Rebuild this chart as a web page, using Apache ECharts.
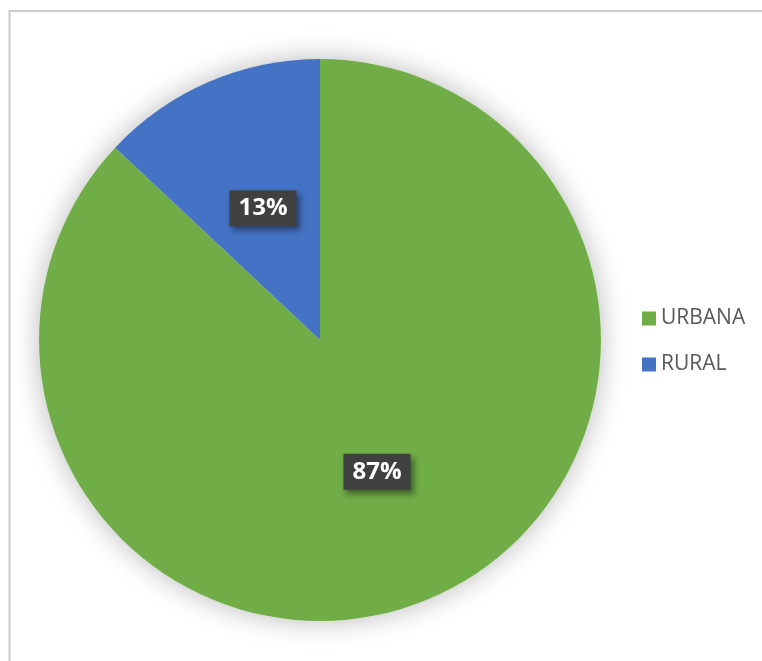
<!DOCTYPE html>
<html>
<head>
<meta charset="utf-8">
<script src="https://cdn.jsdelivr.net/npm/echarts@6/dist/echarts.min.js"></script>
<style>
  html, body { margin: 0; padding: 0; background: #ffffff; }
  #chart { width: 762px; height: 661px; }
</style>
</head>
<body>
<div id="chart"></div>
<script>
// Population share by area
const categories = ['URBANA', 'RURAL'];
const shares = [87, 13];
const colors = ['#70AD47', '#4472C4'];

const chart = echarts.init(document.getElementById('chart'));

const CENTER = [320, 340];
const RADIUS = 281;

chart.setOption({
  animation: false,
  backgroundColor: '#ffffff',
  graphic: [{
    type: 'rect',
    shape: { x: 9.5, y: 11, width: 800, height: 700 },
    style: { fill: 'none', stroke: '#cccccc', lineWidth: 2 },
    silent: true,
    z: 0
  }],
  legend: {
    orient: 'vertical',
    left: 637,
    top: 303,
    data: categories,
    icon: 'rect',
    itemWidth: 14,
    itemHeight: 14,
    itemGap: 25,
    textStyle: {
      fontFamily: 'Open Sans',
      fontSize: 21,
      lineHeight: 20,
      color: '#595959'
    }
  },
  series: [
    {
      // soft halo behind the pie
      name: 'halo',
      type: 'pie',
      center: CENTER,
      radius: RADIUS,
      silent: true,
      z: 1,
      label: { show: false },
      labelLine: { show: false },
      data: [{ value: 1, name: '' }],
      itemStyle: {
        color: '#ffffff',
        shadowBlur: 28,
        shadowColor: 'rgba(0,0,0,0.28)'
      }
    },
    {
      name: 'Área',
      type: 'pie',
      center: CENTER,
      radius: RADIUS,
      startAngle: 90,
      clockwise: true,
      z: 2,
      data: categories.map((c, i) => ({
        name: c,
        value: shares[i],
        itemStyle: { color: colors[i] }
      })),
      itemStyle: { borderWidth: 0 },
      label: {
        show: true,
        position: 'inside',
        formatter: p => p.value + '%',
        fontFamily: 'Open Sans',
        fontWeight: 'bold',
        fontSize: 24,
        lineHeight: 24,
        color: '#ffffff',
        backgroundColor: '#404040',
        padding: [6, 9],
        shadowColor: 'rgba(0,0,0,0.45)',
        shadowBlur: 6,
        shadowOffsetX: 3,
        shadowOffsetY: 4
      },
      labelLine: { show: false }
    }
  ]
});
</script>
</body>
</html>
